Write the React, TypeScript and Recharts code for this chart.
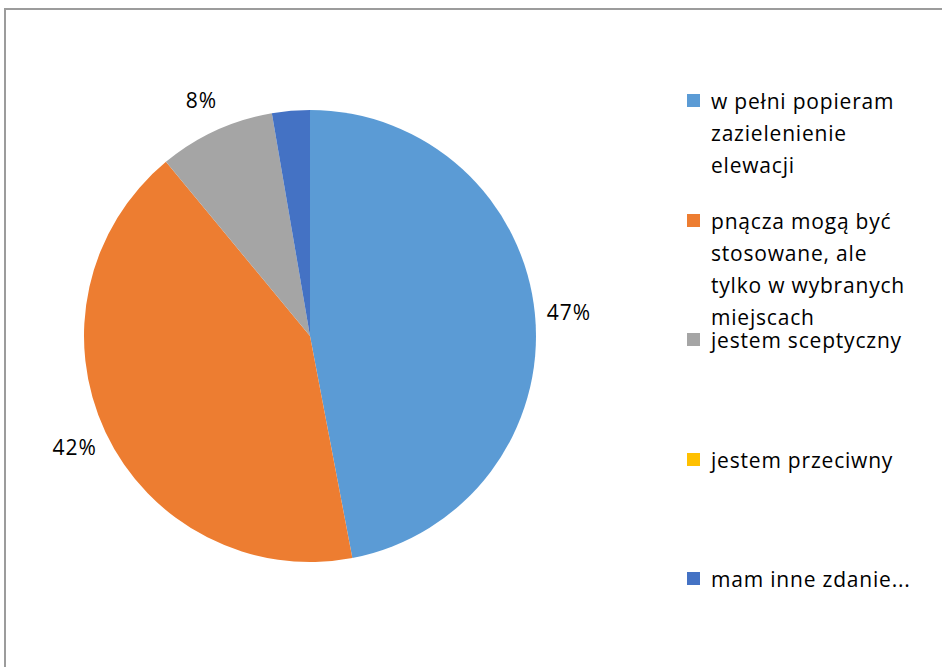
import React from "react";
import { PieChart, Pie, Cell, Legend } from "recharts";

const categories = [
  "w pełni popieram zazielenienie elewacji",
  "pnącza mogą być stosowane, ale tylko w wybranych miejscach",
  "jestem sceptyczny",
  "jestem przeciwny",
  "mam inne zdanie...",
];
const values = [47, 42, 8.3, 0, 2.7];
const colors = ["#5B9BD5", "#ED7D31", "#A5A5A5", "#FFC000", "#4472C4"];
const shownLabels = [true, true, true, false, false];

const data = categories.map((name, i) => ({ name, value: values[i] }));

const FONT = "'Open Sans', 'Liberation Sans', sans-serif";
const RAD = Math.PI / 180;

const renderLabel = (props: any) => {
  const { cx, cy, midAngle, outerRadius, percent, index } = props;
  if (!shownLabels[index]) return null;
  const r = outerRadius + 34;
  const x = cx + r * Math.cos(-midAngle * RAD);
  const y = cy + r * Math.sin(-midAngle * RAD);
  return (
    <text
      x={x}
      y={y}
      fill="#000"
      textAnchor="middle"
      dominantBaseline="central"
      fontSize={21}
      fontFamily={FONT}
      letterSpacing={1}
    >
      {`${Math.round(percent * 100)}%`}
    </text>
  );
};

const renderLegend = () => {
  return (
    <div style={{ fontFamily: FONT }}>
      {categories.map((name, i) => (
        <div
          key={i}
          style={{ height: 119.5, display: "flex", alignItems: "flex-start" }}
        >
          <div
            style={{
              width: 13,
              height: 13,
              background: colors[i],
              marginTop: 9,
              marginRight: 11,
              flexShrink: 0,
            }}
          />
          <div
            style={{
              width: 210,
              fontSize: 21,
              lineHeight: "32px",
              color: "#000",
              letterSpacing: 0.8,
            }}
          >
            {name}
          </div>
        </div>
      ))}
    </div>
  );
};

export default function App() {
  return (
    <div
      style={{
        position: "absolute",
        top: 0,
        left: 0,
        width: 942,
        height: 667,
        overflow: "hidden",
        background: "#fff",
      }}
    >
      <div
        style={{
          position: "absolute",
          left: 4,
          top: 8,
          width: 1000,
          height: 800,
          border: "2px solid #9c9c9c",
          boxSizing: "border-box",
        }}
      />
      <PieChart
        width={942}
        height={667}
        margin={{ top: 0, right: 0, bottom: 0, left: 0 }}
        style={{ position: "absolute", top: 0, left: 0 }}
      >
        <Pie
          data={data}
          dataKey="value"
          nameKey="name"
          cx={310}
          cy={336}
          outerRadius={226}
          startAngle={90}
          endAngle={-270}
          stroke="none"
          label={renderLabel}
          labelLine={false}
          isAnimationActive={false}
        >
          {data.map((_, i) => (
            <Cell key={i} fill={colors[i]} />
          ))}
        </Pie>
        <Legend
          layout="vertical"
          align="right"
          verticalAlign="top"
          content={renderLegend}
          wrapperStyle={{ left: 687, top: 85, width: 250 }}
        />
      </PieChart>
    </div>
  );
}
